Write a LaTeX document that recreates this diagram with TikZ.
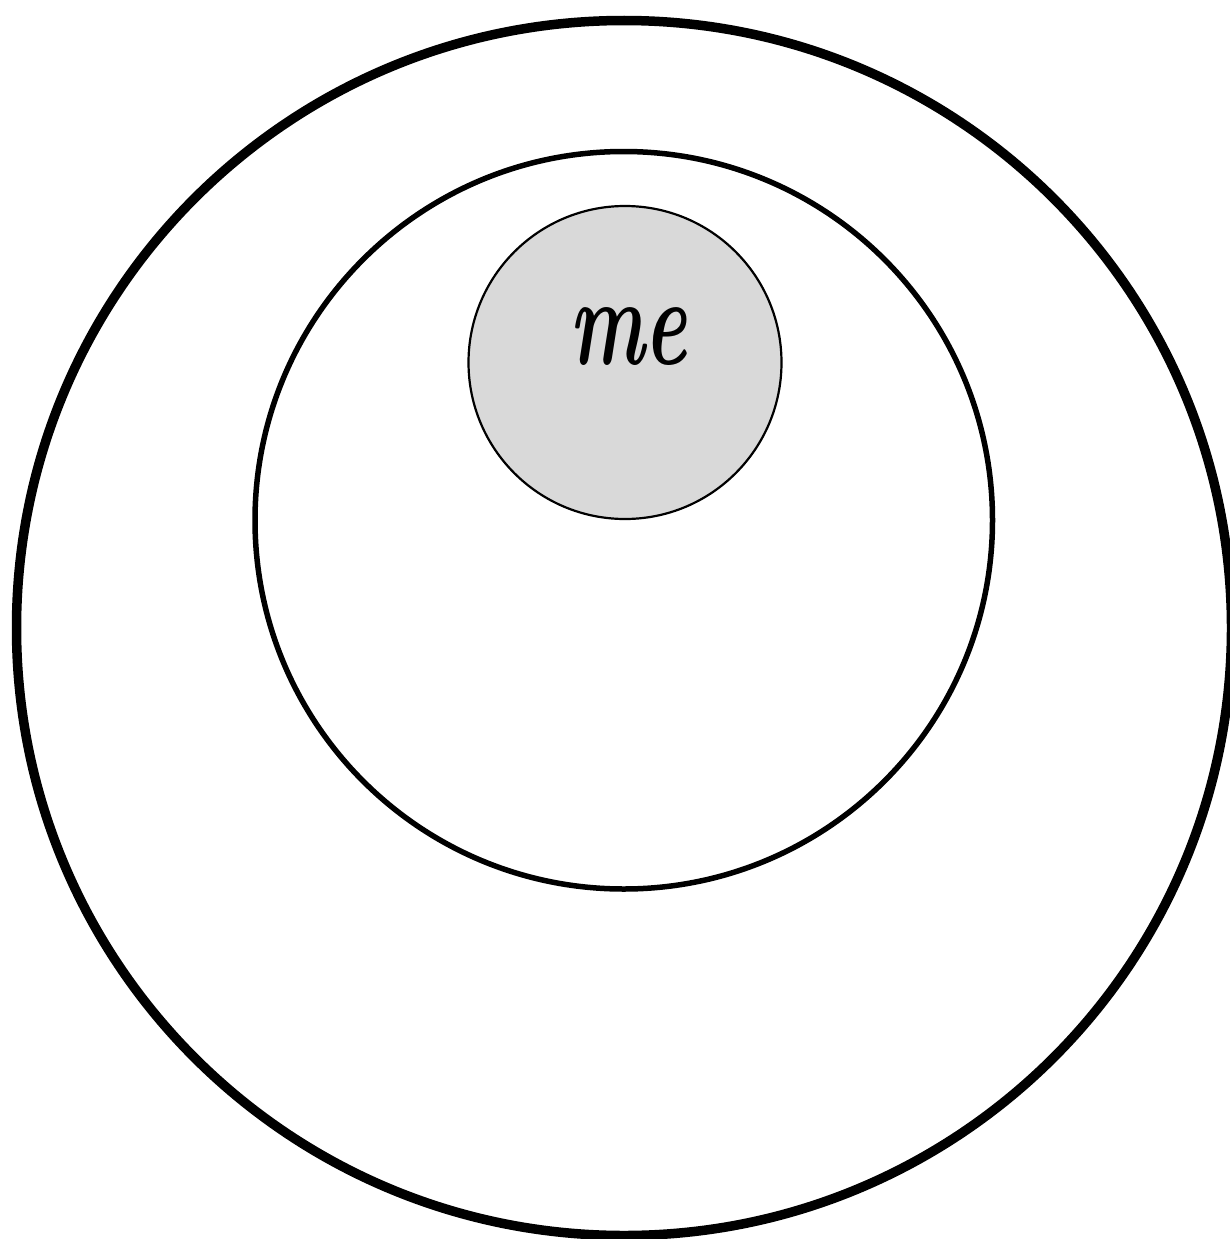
\documentclass[tikz,border=0pt]{standalone}
\usetikzlibrary{shapes.geometric}
\definecolor{meGray}{HTML}{D9D9D9}
\begin{document}
\begin{tikzpicture}[x=1pt,y=-1pt,
  ring/.style={circle,draw=black,inner sep=0pt,outer sep=0pt},
  metext/.style={font=\fontsize{84}{84}\selectfont\bfseries\itshape,inner sep=0pt}]
\useasboundingbox (0,0) rectangle (1230,1239);
\clip (0,0) rectangle (1230,1239);
\fill[white] (0,0) rectangle (1230,1239);
\node[ring,line width=9.5pt,minimum size=1215pt] (outer) at (624,628) {};
\node[ring,line width=5.5pt,minimum size=737.5pt] (middle) at (623.75,520.25) {};
\node[ring,fill=meGray,line width=2.2pt,minimum size=313pt] (inner) at (625,362.5) {};
\node[metext] (me) at (628,337) {\scalebox{0.95}[1.5]{me}};
\end{tikzpicture}
\end{document}
